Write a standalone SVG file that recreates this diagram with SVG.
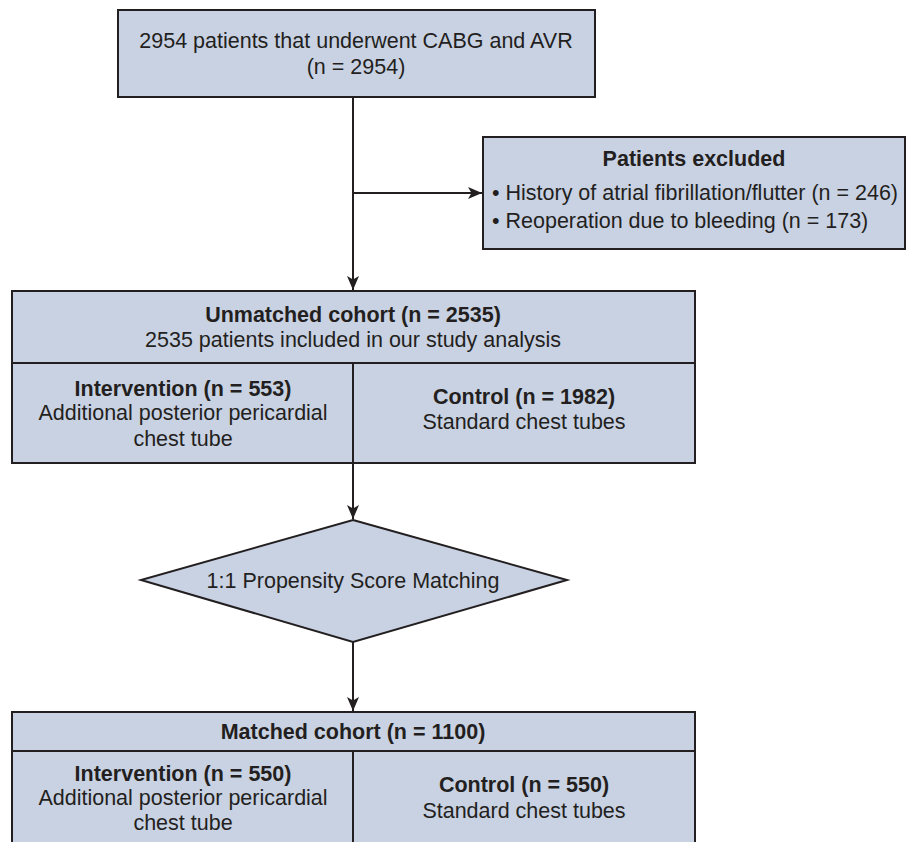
<svg xmlns="http://www.w3.org/2000/svg" width="907" height="842" viewBox="0 0 907 842">
<defs>
<style>
.box{fill:#c9d2e3;stroke:#231f20;stroke-width:2}
.ln{fill:none;stroke:#231f20;stroke-width:2}
text{font-family:"Liberation Sans",Arial,sans-serif;font-size:21.5px;fill:#231f20}
.c{text-anchor:middle}
.b{font-weight:bold}
</style>
<marker id="ah" viewBox="0 0 14 12" refX="14" refY="6" markerWidth="14" markerHeight="12" markerUnits="userSpaceOnUse" orient="auto">
<path d="M0,0 L14,6 L0,12 L3.5,6 z" fill="#231f20"/>
</marker>
</defs>
<rect width="907" height="842" fill="#ffffff"/>
<g id="connectors">
<line class="ln" x1="353" y1="97" x2="353" y2="290" marker-end="url(#ah)"/>
<line class="ln" x1="353" y1="193" x2="482" y2="193" marker-end="url(#ah)"/>
<line class="ln" x1="353" y1="463" x2="353" y2="519" marker-end="url(#ah)"/>
<line class="ln" x1="353" y1="642" x2="353" y2="711" marker-end="url(#ah)"/>
</g>
<g id="start">
<rect class="box" x="118" y="10" width="477" height="87"/>
<text class="c" x="356" y="48">2954 patients that underwent CABG and AVR</text>
<text class="c" x="356" y="74">(n = 2954)</text>
</g>
<g id="excluded">
<rect class="box" x="483" y="137" width="422" height="112"/>
<text class="c b" x="694" y="166">Patients excluded</text>
<text x="492" y="200">• History of atrial fibrillation/flutter (n = 246)</text>
<text x="492" y="228">• Reoperation due to bleeding (n = 173)</text>
</g>
<g id="unmatched">
<rect class="box" x="12" y="291" width="683" height="172"/>
<line class="ln" x1="12" y1="363" x2="695" y2="363"/>
<line class="ln" x1="353" y1="363" x2="353" y2="463"/>
<text class="c b" x="353" y="322">Unmatched cohort (n = 2535)</text>
<text class="c" x="353" y="347">2535 patients included in our study analysis</text>
<text class="c b" x="183" y="396">Intervention (n = 553)</text>
<text class="c" x="183" y="420">Additional posterior pericardial</text>
<text class="c" x="183" y="446">chest tube</text>
<text class="c b" x="524" y="404">Control (n = 1982)</text>
<text class="c" x="524" y="429">Standard chest tubes</text>
</g>
<g id="matching">
<polygon class="box" points="353,520 567,580 353,642 141,580"/>
<text class="c" x="353" y="588">1:1 Propensity Score Matching</text>
</g>
<g id="matched">
<rect class="box" x="12" y="712" width="683" height="145"/>
<line class="ln" x1="12" y1="751" x2="695" y2="751"/>
<line class="ln" x1="353" y1="751" x2="353" y2="857"/>
<text class="c b" x="353" y="739">Matched cohort (n = 1100)</text>
<text class="c b" x="183" y="781">Intervention (n = 550)</text>
<text class="c" x="183" y="805">Additional posterior pericardial</text>
<text class="c" x="183" y="830">chest tube</text>
<text class="c b" x="524" y="792">Control (n = 550)</text>
<text class="c" x="524" y="818">Standard chest tubes</text>
</g>
</svg>
